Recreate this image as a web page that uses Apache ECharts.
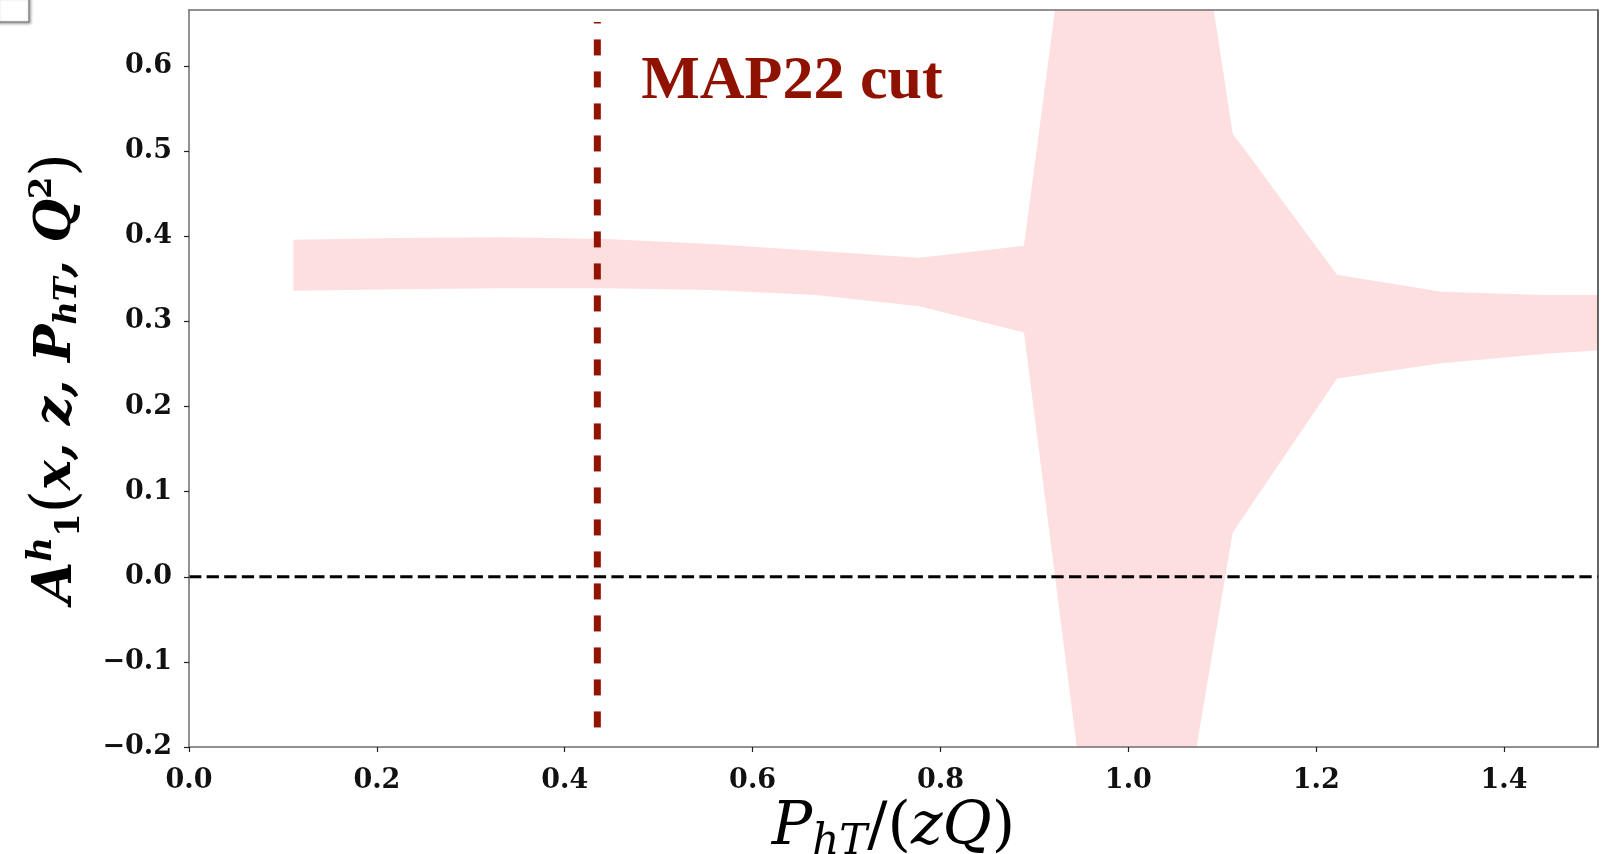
<!DOCTYPE html>
<html><head><meta charset="utf-8">
<script src="https://cdn.jsdelivr.net/npm/echarts@6/dist/echarts.min.js"></script>
<style>html,body{margin:0;padding:0;background:#fff}#c{width:1613px;height:854px}</style>
</head><body><div id="c"></div>
<script>
// ---- data ----
const xPoints   = [0.1111, 0.2222, 0.3333, 0.4444, 0.5556, 0.6667, 0.7778, 0.8889, 1.0, 1.1111, 1.2222, 1.3333, 1.4444, 1.5556];
const upperBand = [0.396, 0.398, 0.399, 0.397, 0.391, 0.383, 0.375, 0.389, 1.32, 0.521, 0.355, 0.335, 0.331, 0.331];
const lowerBand = [0.336, 0.338, 0.339, 0.339, 0.337, 0.331, 0.318, 0.287, -0.676, 0.052, 0.233, 0.251, 0.262, 0.270];
const xTicks = [0.0, 0.2, 0.4, 0.6, 0.8, 1.0, 1.2, 1.4];
const yTicks = [-0.2, -0.1, 0.0, 0.1, 0.2, 0.3, 0.4, 0.5, 0.6];
const xRange = [0, 1.5];
const yRange = [-0.2, 0.666];
const cutX = 0.4347;
const cutYRange = [-0.177, 0.652];
const cutLabel = 'MAP22 cut';
const cutLabelPos = [0.481, 0.581];
const zeroLevel = 0;

const fmt = v => (v < -1e-9 ? '\u2212' : '') + Math.abs(v).toFixed(1);

const chart = echarts.init(document.getElementById('c'));
const bandRows = xPoints.map((x, i) => [x, upperBand[i], lowerBand[i]]);

const tickLabelStyle = {fontFamily: 'DejaVu Serif', fontWeight: 'bold', fontSize: 27, color: '#111'};
const mathBI = {fontFamily: 'DejaVu Serif', fontWeight: 'bold', fontStyle: 'italic', color: '#000', verticalAlign: 'middle'};
const mathI = {fontFamily: 'DejaVu Serif', fontStyle: 'italic', color: '#000', verticalAlign: 'middle'};

chart.setOption({
  animation: false,
  backgroundColor: '#fff',
  grid: {left: 189, right: 15, top: 10, bottom: 107, outerBoundsMode: 'none', containLabel: false},
  graphic: [{
    type: 'rect', z: 100,
    shape: {x: -3, y: -3, width: 32, height: 25},
    style: {fill: '#fff', stroke: '#8a8a8a', lineWidth: 1.5, shadowBlur: 3, shadowColor: 'rgba(0,0,0,0.35)', shadowOffsetX: 1, shadowOffsetY: 1}
  }],
  xAxis: [{
    type: 'value', min: xRange[0], max: xRange[1], z: 10,
    axisLine: {show: true, onZero: false, lineStyle: {color: '#6e6e6e', width: 1.5}},
    axisTick: {show: true, length: 5, lineStyle: {color: '#222', width: 1.2}, customValues: xTicks},
    axisLabel: {show: true, margin: 20, formatter: fmt, customValues: xTicks, ...tickLabelStyle},
    splitLine: {show: false},
    name: '{P|P}{sub|hT}{m|/(}{m2|zQ}{m|)}',
    nameLocation: 'middle', nameGap: 22,
    nameTextStyle: {
      rich: {
        P: {...mathI, fontSize: 60},
        sub: {...mathI, fontSize: 42, padding: [28, 0, 0, 0]},
        m: {...mathI, fontStyle: 'normal', fontSize: 60},
        m2: {...mathI, fontSize: 60}
      }
    }
  }, {
    type: 'value', position: 'top', min: xRange[0], max: xRange[1], z: 10,
    axisLine: {show: true, onZero: false, lineStyle: {color: '#6e6e6e', width: 1.5}},
    axisTick: {show: false}, axisLabel: {show: false}, splitLine: {show: false}
  }],
  yAxis: [{
    type: 'value', min: yRange[0], max: yRange[1], z: 10,
    axisLine: {show: true, onZero: false, lineStyle: {color: '#6e6e6e', width: 1.5}},
    axisTick: {show: true, length: 5, lineStyle: {color: '#222', width: 1.2}, customValues: yTicks},
    axisLabel: {show: true, margin: 17, formatter: fmt, customValues: yTicks, ...tickLabelStyle},
    splitLine: {show: false},
    name: '{A|A}{sup|h}{sub|1}{p|(}{a|x, z, P}{sub2|hT}{a|, Q}{sup2|2}{p|)}',
    nameLocation: 'middle', nameRotate: 90, nameGap: 100,
    nameTextStyle: {
      rich: {
        A: {...mathBI, fontSize: 54},
        a: {...mathBI, fontSize: 50},
        sup: {...mathBI, fontSize: 34, padding: [0, 0, 30, 0]},
        sub: {...mathBI, fontStyle: 'normal', fontSize: 34, padding: [26, 0, 0, 0]},
        sub2: {...mathBI, fontSize: 32, padding: [22, 0, 0, 0]},
        sup2: {...mathBI, fontStyle: 'normal', fontSize: 32, padding: [0, 0, 28, 0]},
        p: {...mathBI, fontStyle: 'normal', fontWeight: 'normal', fontSize: 60}
      }
    }
  }, {
    type: 'value', position: 'right', min: yRange[0], max: yRange[1], z: 10,
    axisLine: {show: true, onZero: false, lineStyle: {color: '#333', width: 1.5}},
    axisTick: {show: false}, axisLabel: {show: false}, splitLine: {show: false}
  }],
  series: [
    {
      name: 'band', type: 'custom', silent: true, clip: true, z: 1,
      data: bandRows,
      encode: {x: 0, y: [1, 2]},
      renderItem: function (params, api) {
        if (params.dataIndex !== 0) return null;
        const pts = [];
        for (let i = 0; i < bandRows.length; i++) pts.push(api.coord([bandRows[i][0], bandRows[i][1]]));
        for (let i = bandRows.length - 1; i >= 0; i--) pts.push(api.coord([bandRows[i][0], bandRows[i][2]]));
        return {type: 'polygon', shape: {points: pts}, style: {fill: '#fddfe0', stroke: null}};
      }
    },
    {
      name: 'zero', type: 'line', symbol: 'none', silent: true, z: 3,
      data: [[xRange[0], zeroLevel], [xRange[1], zeroLevel]],
      lineStyle: {color: '#000', width: 3, type: [12.3, 5.3], cap: 'butt'}
    },
    {
      name: 'cut', type: 'line', symbol: 'none', silent: true, z: 4,
      data: [[cutX, cutYRange[0]], [cutX, cutYRange[1]]],
      lineStyle: {color: '#911300', width: 7, type: [16, 16], cap: 'butt'}
    },
    {
      name: 'cutLabel', type: 'scatter', silent: true, z: 5,
      data: [cutLabelPos], symbolSize: 1, itemStyle: {color: 'rgba(0,0,0,0)', opacity: 1},
      label: {show: true, position: 'right', distance: 0, formatter: cutLabel, opacity: 1,
        fontFamily: 'Liberation Serif', fontWeight: 'bold', fontSize: 62, color: '#8f1200'}
    }
  ]
});
</script>
</body></html>
